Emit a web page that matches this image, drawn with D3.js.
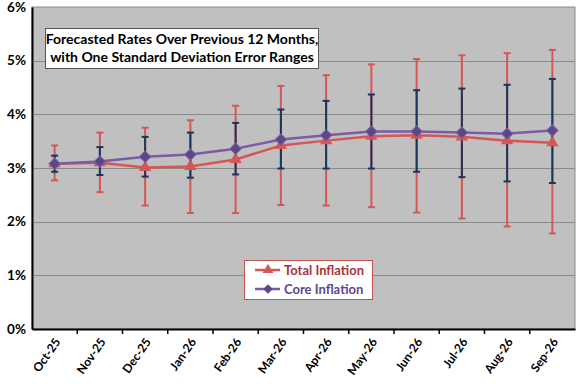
<!DOCTYPE html>
<html>
<head>
<meta charset="utf-8">
<script src="https://cdn.jsdelivr.net/npm/d3@7"></script>
<style>
  html, body { margin: 0; padding: 0; background: #fff; }
  svg { display: block; font-family: Lato, "Open Sans", sans-serif; }
</style>
</head>
<body>
<div id="chart"></div>
<script>
const months = ["Oct-25", "Nov-25", "Dec-25", "Jan-26", "Feb-26", "Mar-26",
                "Apr-26", "May-26", "Jun-26", "Jul-26", "Aug-26", "Sep-26"];

// percent values
const totalMid = [3.08, 3.10, 3.01, 3.03, 3.16, 3.42, 3.51, 3.59, 3.61, 3.58, 3.51, 3.47];
const totalHigh = [3.42, 3.66, 3.75, 3.89, 4.16, 4.53, 4.73, 4.93, 5.03, 5.10, 5.14, 5.20];
const totalLow = [2.77, 2.55, 2.30, 2.16, 2.16, 2.31, 2.30, 2.27, 2.17, 2.06, 1.91, 1.78];

const coreMid = [3.08, 3.12, 3.21, 3.25, 3.36, 3.53, 3.61, 3.68, 3.68, 3.66, 3.64, 3.70];
const coreHigh = [3.23, 3.39, 3.58, 3.66, 3.84, 4.09, 4.25, 4.37, 4.45, 4.48, 4.55, 4.66];
const coreLow = [2.93, 2.87, 2.84, 2.82, 2.88, 2.99, 2.99, 2.99, 2.93, 2.83, 2.75, 2.72];

const yTicks = [0, 1, 2, 3, 4, 5, 6];
const titleLines = ["Forecasted Rates Over Previous 12 Months,",
                    "with One Standard Deviation Error Ranges"];
const legendNames = ["Total Inflation", "Core Inflation"];

const width = 576, height = 384;
const margin = { top: 7, right: 1, bottom: 55, left: 32 };

const svg = d3.select("#chart").append("svg")
    .attr("width", width)
    .attr("height", height);

const x = d3.scaleBand()
    .domain(months)
    .range([margin.left, width - margin.right]);

const y = d3.scaleLinear()
    .domain([0, 6])
    .range([height - margin.bottom, margin.top]);

// plot area
svg.append("rect")
    .attr("x", margin.left)
    .attr("y", margin.top)
    .attr("width", width - margin.right - margin.left)
    .attr("height", y(0) - margin.top)
    .attr("fill", "#c0c0c0")
    .attr("stroke", "#8c8c8c")
    .attr("stroke-width", 1);

// grid
svg.append("g")
    .selectAll("line")
    .data(yTicks.slice(1, -1))
    .join("line")
    .attr("x1", margin.left)
    .attr("x2", width - margin.right)
    .attr("y1", d => Math.round(y(d)) + 0.5)
    .attr("y2", d => Math.round(y(d)) + 0.5)
    .attr("stroke", "#8a8a8a")
    .attr("stroke-width", 1);

// y axis
const yAxis = svg.append("g")
    .attr("transform", `translate(${margin.left},0)`)
    .call(d3.axisLeft(y).tickValues(yTicks).tickFormat(d => d + "%").tickSize(0));
yAxis.select(".domain").attr("stroke", "#000").attr("stroke-width", 2);
yAxis.selectAll("text")
    .attr("font-family", "Lato, sans-serif")
    .attr("font-size", 13.5)
    .attr("font-weight", "bold")
    .attr("fill", "#000")
    .attr("x", -6);

// x axis
const xAxis = svg.append("g")
    .attr("transform", `translate(0,${y(0)})`)
    .call(d3.axisBottom(x).tickSize(0));
xAxis.select(".domain").attr("stroke", "#000").attr("stroke-width", 2);
xAxis.selectAll(".tick text")
    .attr("font-family", "Lato, sans-serif")
    .attr("font-size", 12)
    .attr("font-weight", "bold")
    .attr("fill", "#000")
    .attr("text-anchor", "end")
    .attr("dy", 0)
    .attr("transform", "translate(4,11) rotate(-55)");
// tick marks between categories
svg.append("g")
    .selectAll("line")
    .data(months.slice(1))
    .join("line")
    .attr("x1", d => x(d))
    .attr("x2", d => x(d))
    .attr("y1", y(0))
    .attr("y2", y(0) + 5)
    .attr("stroke", "#000")
    .attr("stroke-width", 1.5);

const red = "#d65555";
const navy = "#17365d";
const purple = "#7a5ca6";
const purpleDark = "#5c4785";
const cx = d => x(d) + x.bandwidth() / 2;

function errorBars(mid, hi, lo, color) {
    const g = svg.append("g").attr("stroke", color).attr("stroke-width", 2);
    g.selectAll("line.v")
        .data(months)
        .join("line")
        .attr("x1", cx).attr("x2", cx)
        .attr("y1", (d, i) => y(hi[i]))
        .attr("y2", (d, i) => y(lo[i]));
    g.selectAll("line.hi")
        .data(months)
        .join("line")
        .attr("x1", d => cx(d) - 3.5).attr("x2", d => cx(d) + 3.5)
        .attr("y1", (d, i) => y(hi[i])).attr("y2", (d, i) => y(hi[i]));
    g.selectAll("line.lo")
        .data(months)
        .join("line")
        .attr("x1", d => cx(d) - 3.5).attr("x2", d => cx(d) + 3.5)
        .attr("y1", (d, i) => y(lo[i])).attr("y2", (d, i) => y(lo[i]));
}

errorBars(totalMid, totalHigh, totalLow, red);
errorBars(coreMid, coreHigh, coreLow, navy);

const line = d3.line()
    .x((d, i) => cx(months[i]))
    .y(d => y(d));

svg.append("path")
    .datum(totalMid)
    .attr("fill", "none")
    .attr("stroke", red)
    .attr("stroke-width", 2.5)
    .attr("d", line);

svg.append("g")
    .selectAll("path")
    .data(totalMid)
    .join("path")
    .attr("transform", (d, i) => `translate(${cx(months[i])},${y(d)})`)
    .attr("d", d3.symbol(d3.symbolTriangle, 65))
    .attr("fill", red);

svg.append("path")
    .datum(coreMid)
    .attr("fill", "none")
    .attr("stroke", purple)
    .attr("stroke-width", 2.5)
    .attr("d", line);

svg.append("g")
    .selectAll("path")
    .data(coreMid)
    .join("path")
    .attr("transform", (d, i) => `translate(${cx(months[i])},${y(d)}) rotate(45)`)
    .attr("d", d3.symbol(d3.symbolSquare, 64))
    .attr("fill", purpleDark)
    .attr("stroke", purple)
    .attr("stroke-width", 1);

// title box
const tb = svg.append("g");
tb.append("rect")
    .attr("x", 45.5).attr("y", 28.5)
    .attr("width", 273).attr("height", 40)
    .attr("fill", "#fff")
    .attr("stroke", "#555")
    .attr("stroke-width", 1);
tb.selectAll("text")
    .data(titleLines)
    .join("text")
    .attr("x", 182)
    .attr("y", (d, i) => 44 + i * 18)
    .attr("text-anchor", "middle")
    .attr("font-size", 14)
    .attr("font-weight", "bold")
    .attr("fill", "#000")
    .text(d => d);

// legend
const lg = svg.append("g");
lg.append("rect")
    .attr("x", 244.5).attr("y", 260.5)
    .attr("width", 128).attr("height", 39)
    .attr("fill", "#fff")
    .attr("stroke", "#c0504d")
    .attr("stroke-width", 1);
const legendColors = [red, purple];
const legendText = ["#a8323a", "#5c4785"];
legendNames.forEach((name, i) => {
    const ly = 270 + i * 19;
    lg.append("line")
        .attr("x1", 255).attr("x2", 280)
        .attr("y1", ly).attr("y2", ly)
        .attr("stroke", legendColors[i])
        .attr("stroke-width", 2.5);
    if (i === 0) {
        lg.append("path")
            .attr("transform", `translate(268,${ly})`)
            .attr("d", d3.symbol(d3.symbolTriangle, 50))
            .attr("fill", red);
    } else {
        lg.append("path")
            .attr("transform", `translate(268,${ly}) rotate(45)`)
            .attr("d", d3.symbol(d3.symbolSquare, 45))
            .attr("fill", purpleDark);
    }
    lg.append("text")
        .attr("x", 284)
        .attr("y", ly + 5)
        .attr("font-size", 13)
        .attr("font-weight", "bold")
        .attr("fill", legendText[i])
        .text(name);
});
</script>
</body>
</html>
